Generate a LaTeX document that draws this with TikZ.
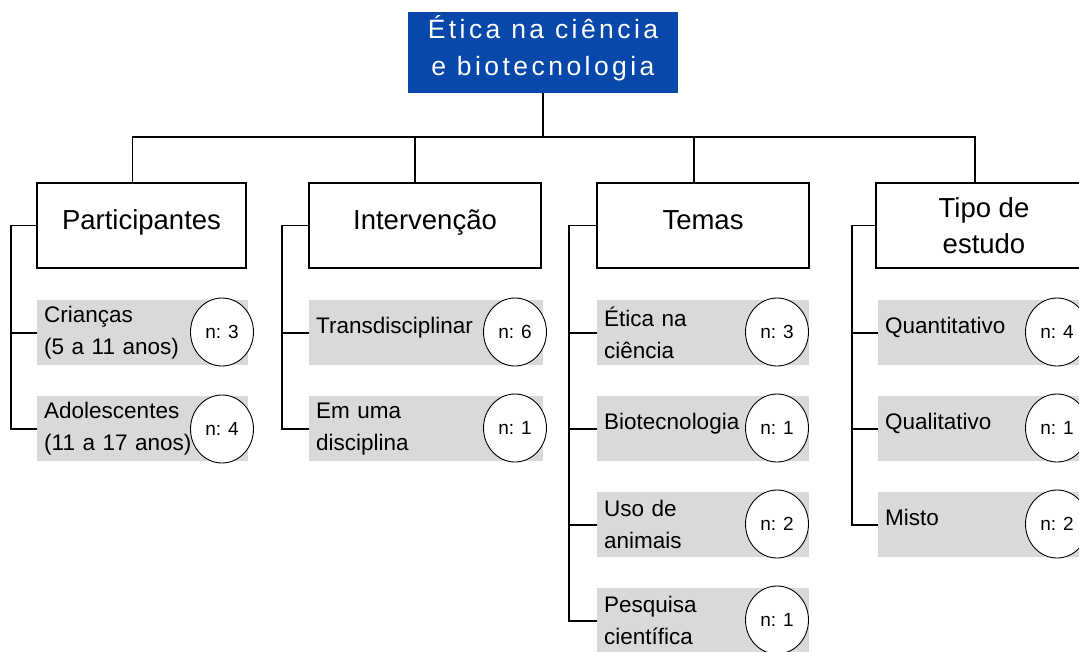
\documentclass[tikz,border=0pt]{standalone}
\usepackage{fontspec}
\setmainfont{Liberation Sans}
\usetikzlibrary{shapes.geometric}
\definecolor{headblue}{RGB}{8,72,170}
\definecolor{itemgray}{RGB}{217,217,217}

\begin{document}
\begin{tikzpicture}[x=1pt,y=-1pt]
\tikzstyle{head} = [rectangle, fill=headblue, text=white, minimum width=270pt, minimum height=81pt, align=center, font=\fontsize{26.5}{37}\selectfont\addfontfeatures{LetterSpace=13}]
\tikzstyle{cat} = [rectangle, draw=black, line width=1.8pt, minimum height=85pt, align=center, font=\fontsize{27.5}{36}\selectfont]
\tikzstyle{item} = [rectangle, fill=itemgray, minimum height=65pt, inner xsep=7pt, anchor=north west, align=left, font=\fontsize{22.5}{32}\selectfont]
\tikzstyle{one} = [text height=16pt, text depth=14pt]
\tikzstyle{num} = [ellipse, draw=black, fill=white, line width=0.9pt, minimum width=63pt, minimum height=68pt, inner sep=0pt, font=\fontsize{19}{19}\selectfont]
\tikzstyle{link} = [line width=1.9pt]
\useasboundingbox (0,0) rectangle (1079,651);
\clip (0,0) rectangle (1079,651);

\node (Top)[head, text depth=13pt] at (543,52.5) {Ética na ciência\\e biotecnologia};

\node (P)[cat, minimum width=209pt, text height=20pt, text depth=12pt] at (141.5,225.5) {Participantes};
\node (I)[cat, minimum width=232pt, text height=20pt, text depth=12pt] at (425,225.5) {Intervenção};
\node (T)[cat, minimum width=212pt, text height=20pt, text depth=12pt] at (703,225.5) {Temas};
\node (E)[cat, minimum width=216pt] at (984,225.5) {Tipo de\\estudo};

\draw[link] (Top.south) -- ++(0,44) -| ([xshift=-9pt]P.north);
\draw[link] (Top.south) -- ++(0,44) -| ([xshift=-10pt]I.north);
\draw[link] (Top.south) -- ++(0,44) -| ([xshift=-9pt]T.north);
\draw[link] (Top.south) -- ++(0,44) -| ([xshift=-9pt]E.north);

% participantes
\node (P1)[item, text width=197pt] at (37,300) {Crianças\\(5 a 11 anos)};
\node (P2)[item, text width=197pt] at (37,396) {Adolescentes\\(11 a 17 anos)};
\node (P1n)[num] at (222,332) {n: 3};
\node (P2n)[num] at (222,429) {n: 4};

% intervencao
\node (I1)[item, one, text width=220pt] at (309,300) {Transdisciplinar};
\node (I2)[item, text width=220pt] at (309,396) {Em uma\\disciplina};
\node (I1n)[num] at (515,332) {n: 6};
\node (I2n)[num] at (515,428) {n: 1};

% temas
\node (T1)[item, text width=198pt] at (597,300) {Ética na\\ciência};
\node (T2)[item, one, text width=198pt] at (597,396) {Biotecnologia};
\node (T3)[item, text width=198pt] at (597,492) {Uso de\\animais};
\node (T4)[item, text width=198pt] at (597,588) {Pesquisa\\científica};
\node (T1n)[num] at (777,332) {n: 3};
\node (T2n)[num] at (777,428) {n: 1};
\node (T3n)[num] at (777,524) {n: 2};
\node (T4n)[num] at (777,620) {n: 1};

% tipo de estudo
\node (E1)[item, one, text width=200pt] at (878,300) {Quantitativo};
\node (E2)[item, one, text width=200pt] at (878,396) {Qualitativo};
\node (E3)[item, one, text width=200pt] at (878,492) {Misto};
\node (E1n)[num] at (1057,332) {n: 4};
\node (E2n)[num] at (1057,428) {n: 1};
\node (E3n)[num] at (1057,524) {n: 2};

\draw[link] (P.west) -- ++(-25,0) |- (P1.west);
\draw[link] (P.west) -- ++(-25,0) |- (P2.west);
\draw[link] (I.west) -- ++(-26,0) |- (I1.west);
\draw[link] (I.west) -- ++(-26,0) |- (I2.west);
\draw[link] (T.west) -- ++(-27,0) |- (T1.west);
\draw[link] (T.west) -- ++(-27,0) |- (T2.west);
\draw[link] (T.west) -- ++(-27,0) |- (T3.west);
\draw[link] (T.west) -- ++(-27,0) |- (T4.west);
\draw[link] (E.west) -- ++(-23,0) |- (E1.west);
\draw[link] (E.west) -- ++(-23,0) |- (E2.west);
\draw[link] (E.west) -- ++(-23,0) |- (E3.west);

\end{tikzpicture}
\end{document}
